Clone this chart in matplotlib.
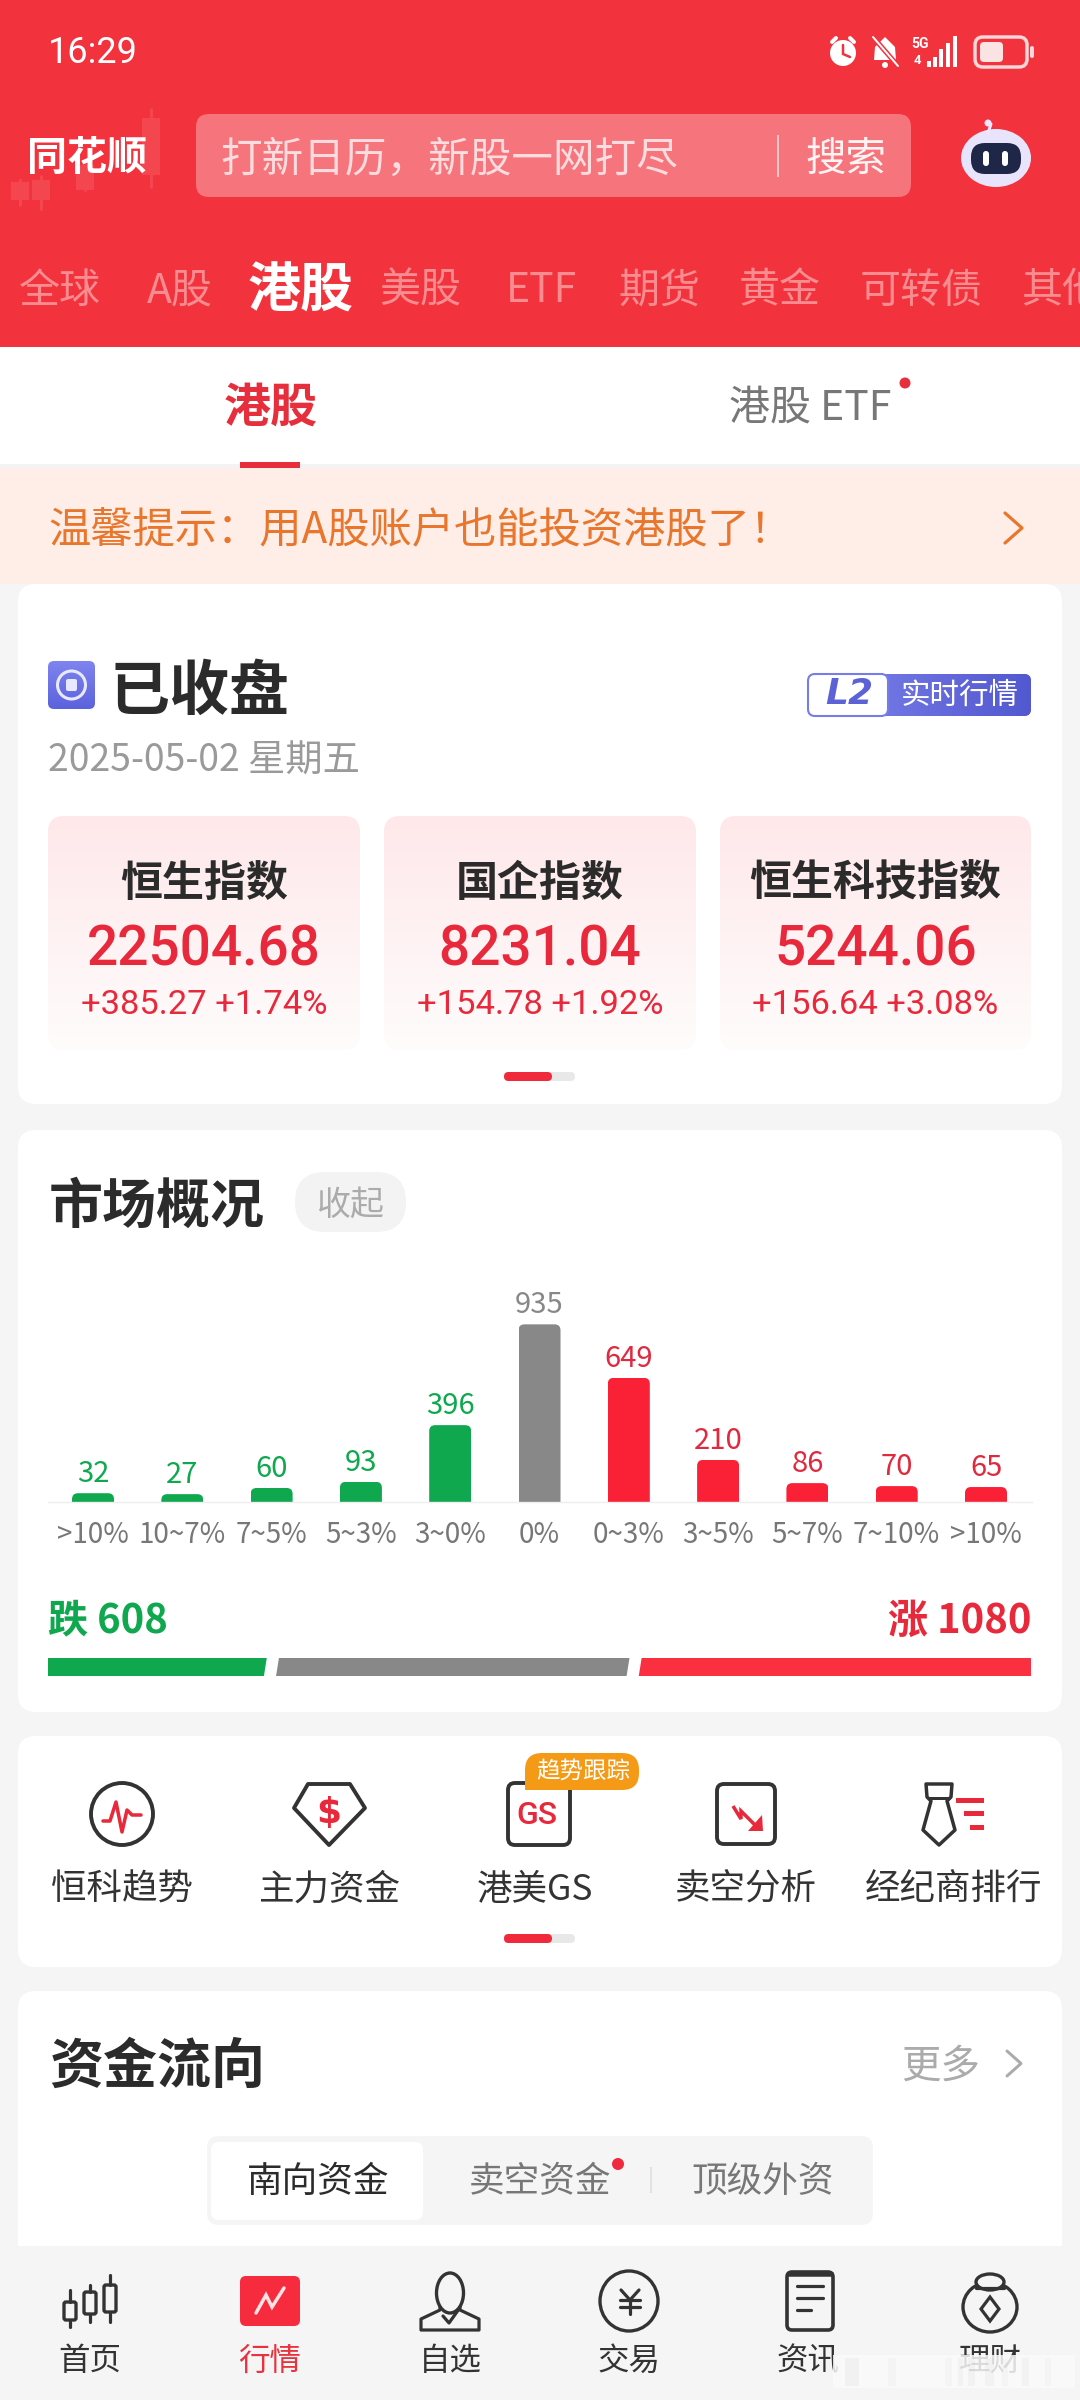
import numpy as np
import matplotlib
matplotlib.use("Agg")
import matplotlib.pyplot as plt
from matplotlib.patches import FancyBboxPatch, Circle, Ellipse, Polygon, Rectangle
from matplotlib.path import Path

plt.rcParams['font.family'] = ['Noto Sans CJK SC', 'DejaVu Sans']

# ---------- data ----------
bucket_labels = ['>10%', '10~7%', '7~5%', '5~3%', '3~0%', '0%', '0~3%', '3~5%', '5~7%', '7~10%', '>10%']
bucket_counts = [32, 27, 60, 93, 396, 935, 649, 210, 86, 70, 65]
fall_total = 608
rise_total = 1080
ratio_segments = [608, 987, 1080]   # widths

index_names = ['恒生指数', '国企指数', '恒生科技指数']
index_values = ['22504.68', '8231.04', '5244.06']
index_changes = ['+385.27 +1.74%', '+154.78 +1.92%', '+156.64 +3.08%']

market_tabs = ['全球', 'A股', '港股', '美股', 'ETF', '期货', '黄金', '可转债', '其他']
tool_names = ['恒科趋势', '主力资金', '港美GS', '卖空分析', '经纪商排行']
flow_tabs = ['南向资金', '卖空资金', '顶级外资']
nav_names = ['首页', '行情', '自选', '交易', '资讯', '理财']

# ---------- styles ----------
RED_HDR = '#F2323C'
RED = '#E8293B'
BAR_RED = '#FA2137'
GREEN = '#0FA84E'
GRAY = '#888888'
INK = '#2B2B2B'
PAGE = '#F5F5F5'
STROKE = '#333333'

W, H = 1080, 2400
fig = plt.figure(figsize=(W / 100, H / 100), dpi=100, facecolor=PAGE)
bg = fig.add_axes([0, 0, 1, 1], zorder=0)
bg.set_xlim(0, W)
bg.set_ylim(H, 0)
bg.axis('off')


def px_axes(x0, y0, x1, y1, z=2):
    a = fig.add_axes([x0 / W, 1 - y1 / H, (x1 - x0) / W, (y1 - y0) / H], zorder=z)
    a.patch.set_alpha(0)
    return a


def T(x, y, s, px, color=INK, weight='normal', ha='center', va='center', family=None, z=5, **kw):
    fam = family if family else ['Noto Sans CJK SC', 'DejaVu Sans']
    return bg.text(x, y, s, fontsize=px * 0.72, color=color, fontweight=weight, ha=ha, va=va,
                   family=fam, zorder=z, **kw)


def RR(x0, y0, x1, y1, r, color, z=1, **kw):
    p = FancyBboxPatch((x0 + r, y0 + r), x1 - x0 - 2 * r, y1 - y0 - 2 * r,
                       boxstyle=f'round,pad={r},rounding_size={r}', lw=kw.pop('lw', 0),
                       facecolor=color, edgecolor=kw.pop('ec', 'none'), zorder=z, **kw)
    bg.add_patch(p)
    return p


def L(xs, ys, color=STROKE, lw=3.5, z=4, cap='round', join='round'):
    bg.plot(xs, ys, color=color, lw=lw * 0.72, zorder=z, solid_capstyle=cap, solid_joinstyle=join)


def grad(x0, y0, x1, y1, top, bottom, clip=None, z=1.5, horizontal=False):
    c0 = np.array(matplotlib.colors.to_rgb(top))
    c1 = np.array(matplotlib.colors.to_rgb(bottom))
    t = np.linspace(0, 1, 128)[:, None]
    img = (c0 * (1 - t) + c1 * t)[:, None, :]
    if horizontal:
        img = img.transpose(1, 0, 2)
    im = bg.imshow(img, extent=(x0, x1, y1, y0), aspect='auto', zorder=z, interpolation='bilinear')
    if clip is not None:
        im.set_clip_path(clip)
    bg.set_xlim(0, W)
    bg.set_ylim(H, 0)
    return im


def chevron(x0, x1, y0, y1, color, lw=3.0):
    L([x0, x1, x0], [y0, (y0 + y1) / 2, y1], color=color, lw=lw)


# ---------- header ----------
bg.add_patch(Rectangle((0, 0), W, 347, fc=RED_HDR, lw=0, zorder=0.5))
T(93, 53, '16:29', 36, 'white', family=['Roboto', 'DejaVu Sans'])

# status icons
bg.add_patch(Circle((843, 53), 13, fc='white', lw=0, zorder=3))
L([843, 843, 850], [45, 54, 57], color=RED_HDR, lw=2.5)
L([832, 836], [42, 38], color='white', lw=4)
L([854, 850], [42, 38], color='white', lw=4)
bg.add_patch(Polygon([[885, 37], [895, 47], [896, 60], [874, 60], [875, 47]], fc='white', lw=0, zorder=3))
bg.add_patch(Circle((885, 65), 3, fc='white', lw=0, zorder=3))
L([873, 898], [37, 66], color=RED_HDR, lw=5)
L([873, 898], [37, 66], color='white', lw=2)
T(920, 44, '5G', 14, 'white', weight='bold', family=['Roboto', 'DejaVu Sans'])
T(917, 61, '4', 13, 'white', weight='bold', family=['Roboto', 'DejaVu Sans'])
for sx, sh in zip([927, 933, 939, 946, 953], [6, 10, 18, 24, 31]):
    bg.add_patch(Rectangle((sx, 67 - sh), 3.6, sh, fc='white', lw=0, zorder=3))
RR(975, 37, 1027, 67, 8, 'none', z=3, lw=2.5, ec='#FBD5D7')
RR(980, 42, 1003, 62, 4, '#FBE3E4', z=3)
RR(1030, 46, 1034, 58, 2, '#FBD5D7', z=3)

# logo decoration candles
deco = '#F4464F'
for cx, top, bot, wick0, wick1 in [(20, 182, 200, 180, 205), (41, 180, 200, 176, 209),
                                   (85, 165, 190, 165, 190), (151, 118, 175, 109, 187)]:
    L([cx, cx], [wick0, wick1], color=deco, lw=3, z=1)
    bg.add_patch(Rectangle((cx - 9, top), 18, bot - top, fc=deco, lw=0, zorder=1))
T(87, 158, '同花顺', 40, 'white', weight='bold', z=3)

# search box
RR(196, 114, 911, 197, 13, '#F6747B', z=1)
T(220, 160, '打新日历，新股一网打尽', 41.6, '#FCDCDE', ha='left')
L([778, 778], [135, 177], color='#FAC4C7', lw=2, cap='butt')
T(846, 159, '搜索', 40.5, '#FFF3F3')

# robot
L([988, 991], [133, 124], color='#F0E6FF', lw=3)
bg.add_patch(Circle((988, 123), 3.5, fc='#F0E6FF', lw=0, zorder=3))
bg.add_patch(Ellipse((996, 158), 70, 58, fc='#E8E4FB', lw=0, zorder=3))
RR(971, 143, 1021, 174, 14, '#1F2748', z=3.5)
for ex in (986, 1005):
    RR(ex - 3, 151, ex + 3, 166, 3, 'white', z=4)

# market tabs
tab_centers = [60, 180, 301, 420, 541, 659, 780, 921, 1062]
for i, (name, cx) in enumerate(zip(market_tabs, tab_centers)):
    if i == 2:
        T(cx, 291, name, 53, 'white', weight='bold')
    else:
        T(cx, 291, name, 41, '#F98C90')

# secondary tabs
bg.add_patch(Rectangle((0, 347), W, 121, fc='white', lw=0, zorder=0.5))
T(271, 408, '港股', 47, '#E62E3C', weight='bold')
T(810, 408, '港股 ETF', 41, '#777777')
bg.add_patch(Circle((905, 383), 5.5, fc='#E62E3C', lw=0, zorder=3))
bg.add_patch(Rectangle((0, 464), W, 4, fc='#F3F3F3', lw=0, zorder=0.6))
bg.add_patch(Rectangle((240, 462), 60, 6, fc='#E62E3C', lw=0, zorder=1))

# banner
bg.add_patch(Rectangle((0, 468), W, 116, fc='#FEEEE7', lw=0, zorder=0.5))
T(48, 530, '温馨提示：用A股账户也能投资港股了！', 42.3, '#E8762D', ha='left')
chevron(1005, 1022, 513, 543, '#E8762D', lw=3.2)

# ---------- card 1 ----------
RR(18, 584, 1062, 1104, 18, 'white', z=0.3)
grad(48, 661, 95, 709, '#7F84F0', '#5C62DC', clip=RR(48, 661, 95, 709, 6, 'none', z=1))
bg.add_patch(Circle((71.5, 685), 14, fc='none', ec='#E8E9FF', lw=2.2, zorder=3))
RR(66, 679, 77, 691, 2, '#E8E9FF', z=3)
T(110, 692, '已收盘', 60, INK, weight='bold', ha='left')

grad(848, 674, 1031, 716, '#777DE8', '#5258CF',
     clip=RR(808, 674, 1031, 716, 7, '#5A60D4', z=1), horizontal=True)
RR(808, 674, 888, 716, 7, 'white', z=2, lw=1.5, ec='#777DE8')
T(849, 694, 'L2', 36, '#5C62D6', weight='bold', style='italic', family=['DejaVu Sans'])
T(960, 695, '实时行情', 29.5, 'white')
T(48, 761, '2025-05-02 星期五', 37.3, '#9A9A9A', ha='left')

card_x = [(48, 360), (384, 696), (720, 1031)]
for (x0, x1), nm, val, chg in zip(card_x, index_names, index_values, index_changes):
    p = RR(x0, 816, x1, 1050, 16, 'none', z=1)
    grad(x0, 816, x1, 1050, '#FEE8EA', '#FFFCFC', clip=p)
    cx = (x0 + x1) / 2
    T(cx, 884, nm, 42, INK, weight='bold')
    T(cx, 950, val, 55, RED, weight='medium', family=['Roboto', 'DejaVu Sans'])
    T(cx, 1005, chg, 34.5, RED, family=['Roboto', 'DejaVu Sans'])

RR(504, 1072, 575, 1081, 4.5, '#E8E8E8', z=1)
RR(504, 1072, 552, 1081, 4.5, '#F02A3C', z=2)

# ---------- card 2 ----------
RR(18, 1130, 1062, 1712, 18, 'white', z=0.3)
T(49, 1207, '市场概况', 54, INK, weight='bold', ha='left')
RR(295, 1172, 406, 1232, 30, '#F3F3F3', z=1)
T(351, 1205, '收起', 34, '#ABABAB')

PX_PER_COUNT = 0.187
BASE = -15
ax = px_axes(48, 1300, 1032, 1502)
ax.set_xlim(-0.504, 10.515)
ax.set_ylim(BASE, BASE + 202 / PX_PER_COUNT)
colors = [GREEN] * 5 + [GRAY] + [BAR_RED] * 5
label_colors = [GREEN] * 5 + [GRAY] + ['#E0293E'] * 5
x = np.arange(len(bucket_counts))
heights = [v - BASE for v in bucket_counts]
bars = ax.bar(x, heights, bottom=BASE, width=42 / 89.3, color=colors, linewidth=0)
rx, ry = 6 / 89.3, 6 / PX_PER_COUNT
for rect in bars:
    x0, x1 = rect.get_x(), rect.get_x() + rect.get_width()
    y0, y1 = rect.get_y(), rect.get_y() + rect.get_height()
    verts = [(x0, y0), (x0, y1 - ry), (x0, y1), (x0 + rx, y1), (x1 - rx, y1), (x1, y1), (x1, y1 - ry), (x1, y0), (x0, y0)]
    codes = [Path.MOVETO, Path.LINETO, Path.CURVE3, Path.CURVE3, Path.LINETO, Path.CURVE3, Path.CURVE3, Path.LINETO, Path.CLOSEPOLY]
    rect.set_clip_path(Path(verts, codes), ax.transData)
for xi, v, c in zip(x, bucket_counts, label_colors):
    ax.annotate(str(v), (xi, v), xytext=(0, 8), textcoords='offset points', ha='center', va='baseline',
                fontsize=21, color=c, annotation_clip=False)
ax.set_xticks(x)
ax.set_xticklabels(bucket_labels, fontsize=20, color='#777777')
ax.tick_params(axis='x', length=0, pad=13)
ax.set_yticks([])
for s in ('top', 'left', 'right'):
    ax.spines[s].set_visible(False)
ax.spines['bottom'].set_color('#EEEEEE')
ax.spines['bottom'].set_linewidth(1)

T(48, 1621, f'跌 {fall_total}', 40, GREEN, ha='left', weight='bold')
T(1031, 1621, f'涨 {rise_total}', 40, RED, ha='right', weight='bold')

ax2 = px_axes(48, 1658, 1031, 1676)
total = sum(ratio_segments)
ax2.set_xlim(0, total)
ax2.set_ylim(0, 1)
ax2.axis('off')
left = 0
edges = []
for v, c in zip(ratio_segments, [GREEN, GRAY, '#FA3040']):
    ax2.barh(0.5, v, left=left, height=1, color=c, linewidth=0)
    left += v
    edges.append(left)
slant = 2 * total / 983
for e in edges[:-1]:
    ax2.plot([e - slant, e + slant], [-0.2, 1.2], color='white', lw=12 * 0.72, solid_capstyle='butt')

# ---------- card 3 ----------
RR(18, 1736, 1062, 1967, 18, 'white', z=0.3)
tool_x = [122, 329, 535, 746, 954]
for nm, cx in zip(tool_names, tool_x):
    T(cx, 1890, nm, 35.5, '#333333')

bg.add_patch(Circle((122, 1814), 31, fc='none', ec=STROKE, lw=2.8, zorder=4))
L([103, 110, 116, 122, 127, 132, 141], [1821, 1821, 1802, 1832, 1810, 1815, 1815], color=RED, lw=3.5)

bg.add_patch(Polygon([[308, 1784], [350, 1784], [365, 1808], [329, 1845], [294, 1808]], fc='none', ec=STROKE, lw=2.8,
                     joinstyle='round', zorder=4))
T(329, 1813, '$', 36, RED, weight='bold', family=['DejaVu Sans'])

RR(508, 1783, 570, 1845, 7, 'none', z=4, lw=2.8, ec=STROKE)
T(537, 1815, 'GS', 32, RED, weight='medium', family=['Roboto', 'DejaVu Sans'])
RR(525, 1753, 639, 1790, 17, '#F59A16', z=4.5)
bg.add_patch(Rectangle((525, 1772), 20, 18, fc='#F59A16', lw=0, zorder=4.5))
T(583, 1772, '趋势跟踪', 23.5, 'white')

RR(717, 1784, 775, 1844, 7, 'none', z=4, lw=2.8, ec=STROKE)
L([733, 741, 741, 756], [1806, 1819, 1811, 1826], color=RED, lw=3.5, cap='butt', join='miter')
bg.add_patch(Polygon([[748, 1831], [763, 1831], [762, 1815]], fc=RED, lw=0, zorder=4))

bg.add_patch(Polygon([[926, 1784], [952, 1784], [951, 1797], [947, 1801], [955, 1830], [939, 1845], [923, 1830], [931, 1801], [927, 1797]],
                     fc='none', ec=STROKE, lw=2.5, joinstyle='round', zorder=4))
L([929, 949], [1798, 1798], color=STROKE, lw=3)
for y0, x0 in zip([1800, 1813, 1827], [956, 964, 970]):
    bg.add_patch(Rectangle((x0, y0 - 2.5), 984 - x0, 5, fc=RED, lw=0, zorder=4))

RR(504, 1934, 575, 1943, 4.5, '#E8E8E8', z=1)
RR(504, 1934, 552, 1943, 4.5, '#F02A3C', z=2)

# ---------- card 4 ----------
RR(18, 1991, 1062, 2280, 18, 'white', z=0.3)
T(49, 2067, '资金流向', 54, INK, weight='bold', ha='left')
T(941, 2067, '更多', 39.5, '#ABABAB')
chevron(1007, 1021, 2051, 2076, '#ABABAB', lw=3)
RR(207, 2136, 873, 2225, 12, PAGE, z=0.8)
RR(211, 2142, 423, 2220, 8, 'white', z=1)
for nm, cx, c in zip(flow_tabs, [318, 540, 763], [INK, '#777777', '#777777']):
    T(cx, 2182, nm, 35.6, c)
bg.add_patch(Circle((618, 2164), 6, fc='#F02A3C', lw=0, zorder=6))
L([651, 651], [2167, 2193], color='#DDDDDD', lw=1.5, cap='butt')

# ---------- bottom nav ----------
bg.add_patch(Rectangle((0, 2246), W, 154, fc=PAGE, lw=0, zorder=1.8))
nav_x = [90, 270, 450, 629, 808, 990]
for i, (nm, cx) in enumerate(zip(nav_names, nav_x)):
    T(cx, 2361, nm, 31.5, '#E8323F' if i == 1 else '#333333')

nav_stroke = dict(color=STROKE, lw=3.2, z=4)
for cx, wt, bt, t, b in [(70, 2290, 2327, 2302, 2320), (90, 2285, 2322, 2292, 2314), (110, 2275, 2322, 2285, 2312)]:
    L([cx, cx], [wt, t], **nav_stroke)
    L([cx, cx], [b, bt], **nav_stroke)
    RR(cx - 6, t, cx + 6, b, 2, 'none', z=4, lw=2.4, ec=STROKE)

RR(240, 2276, 300, 2326, 6, '#F62B3E', z=3)
L([256, 266, 272, 284], [2313, 2295, 2307, 2288], color='#FFE2E4', lw=3.5, join='miter')

# person outline: narrow head over shoulders
bg.add_patch(Ellipse((450, 2293), 27, 40, fc='none', ec=STROKE, lw=2.4, zorder=4))
L([440, 440, 421, 421, 479, 479, 460, 460], [2307, 2310, 2319, 2330, 2330, 2319, 2310, 2307], **nav_stroke)
L([443, 449, 459], [2316, 2323, 2309], **nav_stroke)

bg.add_patch(Ellipse((629, 2301), 58, 60, fc='none', ec=STROKE, lw=2.4, zorder=4))
L([621, 630, 639], [2290, 2300, 2290], **nav_stroke)
L([630, 630], [2300, 2314], **nav_stroke)
L([620, 640], [2300, 2300], **nav_stroke)
L([620, 640], [2307, 2307], **nav_stroke)

RR(787, 2272, 833, 2330, 5, 'none', z=4, lw=2.6, ec=STROKE)
L([787, 833], [2274, 2274], color=STROKE, lw=4.5, cap='butt')
L([797, 823], [2286, 2286], **nav_stroke)
L([797, 823], [2298, 2298], **nav_stroke)
L([797, 811], [2310, 2310], **nav_stroke)

bg.add_patch(Ellipse((990, 2307), 54, 50, fc='none', ec=STROKE, lw=2.4, zorder=4))
bg.add_patch(Ellipse((990, 2282), 28, 16, fc=PAGE, ec=STROKE, lw=2.4, zorder=4))
L([976, 1004], [2288, 2288], **nav_stroke)
bg.add_patch(Polygon([[990, 2297], [999, 2309], [990, 2321], [981, 2309]], fc='none', ec=STROKE, lw=2.3, zorder=4))

# watermark strip along the bottom right
bg.add_patch(Rectangle((833, 2355), 242, 33, fc='#FAFAFA', alpha=0.85, lw=0, zorder=7))
for sx, sw, a in [(845, 14, .12), (888, 8, .08), (945, 7, .08), (958, 5, .10), (968, 7, .10), (985, 9, .10), (1002, 6, .08), (1022, 7, .10), (1045, 6, .08)]:
    bg.add_patch(Rectangle((sx, 2358), sw, 28, fc='#BBBBBB', alpha=a, lw=0, zorder=7.5))

fig.savefig('out.png', dpi=100, facecolor=PAGE)
